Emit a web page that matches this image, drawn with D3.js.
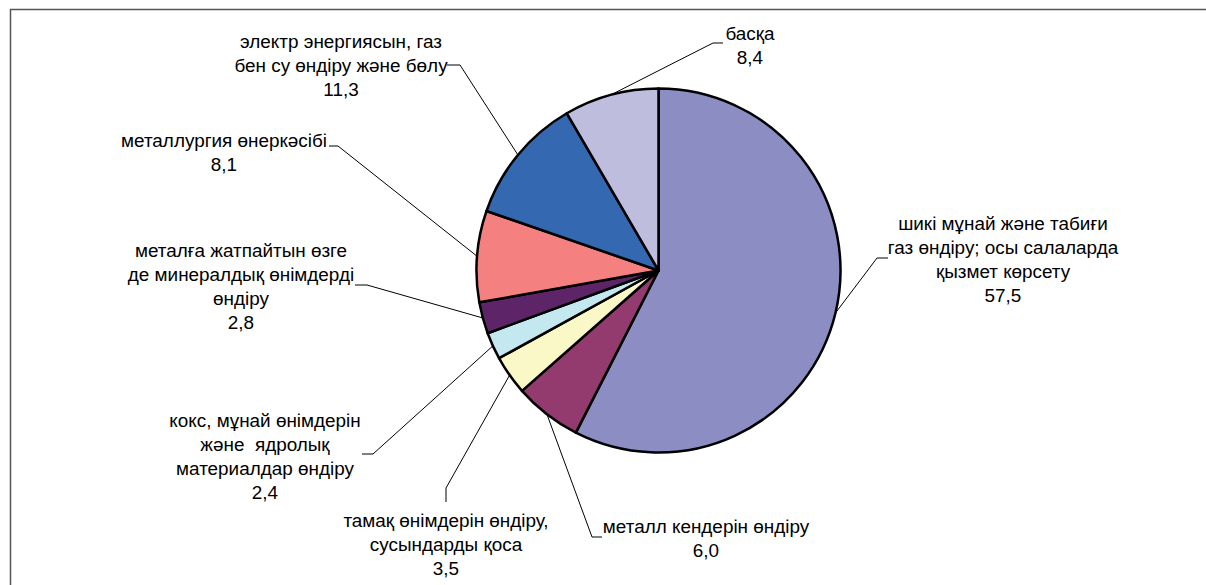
<!DOCTYPE html>
<html>
<head>
<meta charset="utf-8">
<script src="https://cdn.jsdelivr.net/npm/d3@7"></script>
<style>
  html, body { margin: 0; padding: 0; background: #fff; }
  svg { display: block; }
  text { font-family: "Liberation Sans", Arial, sans-serif; font-size: 18.9px; fill: #000; white-space: pre; }
</style>
</head>
<body>
<svg id="chart" width="1206" height="585"></svg>
<script>
// ---- data ----
const categories = [
  "шикі мұнай және табиғи газ өндіру; осы салаларда қызмет көрсету",
  "металл кендерін өндіру",
  "тамақ өнімдерін өндіру, сусындарды қоса",
  "кокс, мұнай өнімдерін және  ядролық материалдар өндіру",
  "металға жатпайтын өзге де минералдық өнімдерді өндіру",
  "металлургия өнеркәсібі",
  "электр энергиясын, газ бен су өндіру және бөлу",
  "басқа"
];
const labelLines = [
  ["шикі мұнай және табиғи", "газ өндіру; осы салаларда", "қызмет көрсету"],
  ["металл кендерін өндіру"],
  ["тамақ өнімдерін өндіру,", "сусындарды қоса"],
  ["кокс, мұнай өнімдерін", "және  ядролық", "материалдар өндіру"],
  ["металға жатпайтын өзге", "де минералдық өнімдерді", "өндіру"],
  ["металлургия өнеркәсібі"],
  ["электр энергиясын, газ", "бен су өндіру және бөлу"],
  ["басқа"]
];
const values = [57.5, 6.0, 3.5, 2.4, 2.8, 8.1, 11.3, 8.4];

// ---- styles / layout ----
const colors = ["#8B8DC3", "#933A6E", "#FBF8C8", "#C4E8EF", "#5E2468", "#F4807F", "#3468B1", "#BFBDDE"];
// label anchor: center x, first baseline y; leader: start point and elbow point
const labelPos = [
  { x: 1003, y: 230, p0: [888, 258], p1: [877, 258] },
  { x: 706,  y: 533, p0: [602, 537], p1: [592, 537] },
  { x: 446,  y: 527, p0: [446, 502], p1: [446, 488] },
  { x: 265,  y: 427, p0: [362, 454], p1: [373, 454] },
  { x: 241,  y: 257, p0: [355, 285], p1: [367, 285] },
  { x: 224,  y: 147, p0: [329, 146], p1: [338, 146] },
  { x: 341,  y: 48,  p0: [447, 65],  p1: [460, 65] },
  { x: 750,  y: 40,  p0: [723, 43],  p1: [713, 43] }
];
const lineH = 24;
const cx = 658.5, cy = 270.5, R = 182;

const svg = d3.select("#chart");

// frame
svg.append("rect")
  .attr("x", 10.5).attr("y", 9.5)
  .attr("width", 1220).attr("height", 620)
  .attr("fill", "none").attr("stroke", "#555").attr("stroke-width", 1.5);

const fmt = v => d3.format(".1f")(v).replace(".", ",");

const pie = d3.pie().sort(null).value(d => d)(values);
const arc = d3.arc().innerRadius(0).outerRadius(R);
const edge = d3.arc().innerRadius(R).outerRadius(R);

const g = svg.append("g").attr("transform", `translate(${cx},${cy})`);

// leader lines (drawn under slices)
const lg = svg.append("g");
pie.forEach((d, i) => {
  const c = edge.centroid(d);
  const p = labelPos[i];
  lg.append("polyline")
    .attr("points", [p.p0, p.p1, [cx + c[0], cy + c[1]]].map(q => q.join(",")).join(" "))
    .attr("fill", "none").attr("stroke", "#000").attr("stroke-width", 1);
});

g.selectAll("path").data(pie).join("path")
  .attr("d", arc)
  .attr("fill", (d, i) => colors[i])
  .attr("stroke", "#000")
  .attr("stroke-width", 2.5)
  .attr("stroke-linejoin", "round");

// labels
const tg = svg.append("g");
pie.forEach((d, i) => {
  const p = labelPos[i];
  const lines = labelLines[i].concat([fmt(values[i])]);
  const t = tg.append("text").attr("text-anchor", "middle");
  lines.forEach((ln, k) => {
    t.append("tspan").attr("x", p.x).attr("y", p.y + k * lineH).text(ln);
  });
});
</script>
</body>
</html>
